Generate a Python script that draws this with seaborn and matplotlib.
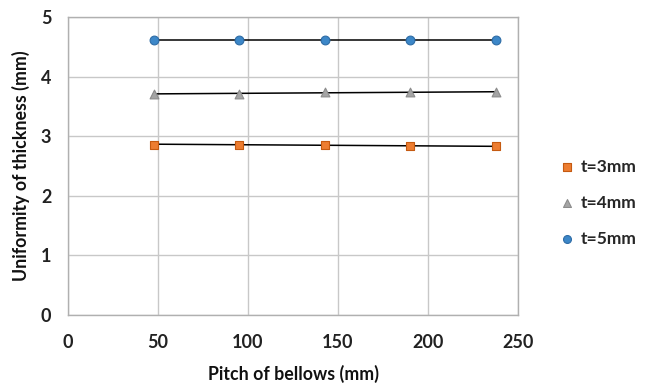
import matplotlib
matplotlib.use("Agg")
import matplotlib.pyplot as plt
import seaborn as sns
import pandas as pd

pitch = [47.5, 95, 142.5, 190, 237.5]
t3 = [2.86, 2.86, 2.86, 2.83, 2.83]
t4 = [3.71, 3.71, 3.74, 3.74, 3.74]
t5 = [4.62, 4.62, 4.62, 4.62, 4.62]
labels = ["t=3mm", "t=4mm", "t=5mm"]
x_ticks = [0, 50, 100, 150, 200, 250]
y_ticks = [0, 1, 2, 3, 4, 5]

sns.set_theme(style="white")
plt.rcParams['font.family'] = ['Lato', 'DejaVu Sans']

rows = []
for lab, vals in zip(labels, [t3, t4, t5]):
    for x, y in zip(pitch, vals):
        rows.append({"pitch": x, "u": y, "series": lab})
df = pd.DataFrame(rows)

fig = plt.figure(figsize=(6.56, 3.87), dpi=100)
ax = fig.add_axes([68/656, 72/387, 450/656, 298/387])

palette = {"t=3mm": "#ED7D31", "t=4mm": "#A5A5A5", "t=5mm": "#3C87C8"}
edges = {"t=3mm": "#C55A11", "t=4mm": "#8C8C8C", "t=5mm": "#2E6CA6"}
markers = {"t=3mm": "s", "t=4mm": "^", "t=5mm": "o"}

for lab in labels:
    sub = df[df.series == lab]
    sns.regplot(data=sub, x="pitch", y="u", ax=ax, scatter=False, ci=None,
                truncate=True, line_kws=dict(color="black", lw=1.1, zorder=2))
for lab in labels:
    sub = df[df.series == lab]
    sns.scatterplot(data=sub, x="pitch", y="u", ax=ax, marker=markers[lab],
                    color=palette[lab], edgecolor=edges[lab], linewidth=0.8,
                    s=40, label=lab, zorder=3)

ax.set_xlim(0, 250)
ax.set_ylim(0, 5)
ax.set_xticks(x_ticks)
ax.set_yticks(y_ticks)
ax.grid(True, color="#C8C8C8", lw=1)
for s in ax.spines.values():
    s.set_color("#B0B0B0")
    s.set_linewidth(1)
ax.tick_params(axis="x", labelsize=13, colors="#222222", length=0, pad=14)
ax.tick_params(axis="y", labelsize=13, colors="#222222", length=0, pad=12)
for t in ax.get_xticklabels() + ax.get_yticklabels():
    t.set_fontweight("bold")
ax.set_xlabel("Pitch of bellows (mm)", fontsize=12.8, fontweight="bold", color="#111111", labelpad=10)
ax.set_ylabel("Uniformity of thickness (mm)", fontsize=12.8, fontweight="bold", color="#111111", labelpad=8)

leg = ax.legend(loc="center left", bbox_to_anchor=(1.05, 0.376), frameon=False,
                fontsize=12.5, labelspacing=1.15, handletextpad=0.2, handlelength=1.2,
                markerscale=0.9)
for t in leg.get_texts():
    t.set_fontweight("bold")

fig.savefig("out.png", dpi=100)
